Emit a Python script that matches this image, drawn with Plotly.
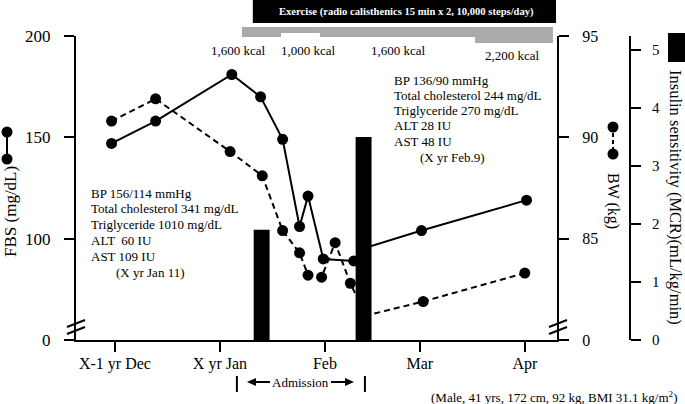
import plotly.graph_objects as go

# ---------------- data ----------------
month_days = [0, 31, 62, 90, 121]            # days since X-1 yr Dec 1
month_labels = ["X-1 yr Dec", "X yr Jan", "Feb", "Mar", "Apr"]

fbs_days = [-1, 12, 34.5, 43, 49.5, 54.5, 57, 61.5, 70.5, 73, 90.5, 121.5]
fbs_values = [147, 158, 181, 170, 149, 106, 121, 90, 89, 95, 104, 119]

bw_days = [-1, 12, 34, 43.5, 49.5, 54.5, 57, 61, 65, 69.5, 74, 91, 121]
bw_values = [90.8, 91.9, 89.3, 88.1, 85.4, 84.3, 83.2, 83.1, 84.8, 82.8, 81.2, 81.9, 83.3]

mcr_days = [43.3, 73.4]
mcr_values = [1.9, 3.5]

fbs_ticks = [50, 100, 150, 200]
fbs_ticktext = ["0", "100", "150", "200"]
bw_ticks = [80, 85, 90, 95]
bw_ticktext = ["0", "85", "90", "95"]
mcr_ticks = [0, 1, 2, 3, 4, 5]

diet_bounds = [37.5, 49, 60.5, 106.3, 129.3]
diet_kcal = [1600, 1000, 1600, 2200]
diet_labels = ["1,600 kcal", "1,000 kcal", "1,600 kcal", "2,200 kcal"]
exercise_span = [40.7, 130.2]
exercise_text = "Exercise (radio calisthenics 15 min x 2, 10,000 steps/day)"
admission_days = [36, 73.8]

jan_lab = ["BP 156/114 mmHg", "Total cholesterol 341 mg/dL", "Triglyceride 1010 mg/dL",
           "ALT  60 IU", "AST 109 IU"]
jan_date = "(X yr Jan 11)"
feb_lab = ["BP 136/90 mmHg", "Total cholesterol 244 mg/dL", "Triglyceride 270 mg/dL",
           "ALT 28 IU", "AST 48 IU"]
feb_date = "(X yr Feb.9)"
patient_text = "(Male, 41 yrs, 172 cm, 92 kg, BMI 31.1 kg/m<sup>2</sup>)"

# ---------------- layout helpers (pixel -> paper) ----------------
W, H = 685, 404
L, R, T, B = 76, 630, 36, 340
PLOT_RIGHT = 557
FONT = "Liberation Serif"


def px(x):
    return (x - L) / (R - L)


def py(y):
    return (B - y) / (B - T)


fig = go.Figure()
fig.add_trace(go.Scatter(
    x=fbs_days, y=fbs_values, mode="lines+markers", yaxis="y",
    line=dict(color="black", width=2), marker=dict(size=11, color="black"),
    cliponaxis=False))
fig.add_trace(go.Scatter(
    x=bw_days, y=bw_values, mode="lines+markers", yaxis="y2",
    line=dict(color="black", width=2, dash="6px,4px"),
    marker=dict(size=11, color="black"), cliponaxis=False))
fig.add_trace(go.Bar(
    x=mcr_days, y=mcr_values, width=4.7, yaxis="y3",
    marker=dict(color="black", line=dict(width=0))))

axis_common = dict(showline=True, linewidth=2, linecolor="black", ticks="outside",
                   ticklen=10, tickwidth=2, tickcolor="black", showgrid=False,
                   zeroline=False, fixedrange=True)

shapes = []
annotations = []


def txt(x, y, t, size=13, xanchor="left", color="black", angle=0):
    annotations.append(dict(xref="paper", yref="paper", x=px(x), y=py(y), text=t,
                            showarrow=False, xanchor=xanchor, yanchor="middle",
                            textangle=angle,
                            font=dict(size=size, color=color, family=FONT)))


def pline(x0, y0, x1, y1, width=2, dash="solid"):
    shapes.append(dict(type="line", xref="paper", yref="paper", x0=px(x0), x1=px(x1),
                       y0=py(y0), y1=py(y1), line=dict(color="black", width=width, dash=dash)))


def dot(cx, cy, r=5.5):
    shapes.append(dict(type="circle", xref="paper", yref="paper",
                       x0=px(cx - r), x1=px(cx + r), y0=py(cy + r), y1=py(cy - r),
                       fillcolor="black", line=dict(width=0)))


def tri(points):
    path = "M " + " L ".join(f"{px(a):.5f},{py(b):.5f}" for a, b in points) + " Z"
    shapes.append(dict(type="path", xref="paper", yref="paper", path=path,
                       fillcolor="black", line=dict(width=0)))


# diet band
thick = {1000: 6, 1600: 10, 2200: 16}
for i, k in enumerate(diet_kcal):
    shapes.append(dict(type="rect", xref="x", yref="paper",
                       x0=diet_bounds[i], x1=diet_bounds[i + 1],
                       y0=py(27 + thick[k]), y1=py(27),
                       fillcolor="#aaaaaa", line=dict(width=0), layer="above"))
label_pos = [(238, 51), (308, 51), (398, 51), (512, 56)]
for (lx, ly), t in zip(label_pos, diet_labels):
    txt(lx, ly, t, xanchor="center")

# exercise bar
shapes.append(dict(type="rect", xref="x", yref="paper",
                   x0=exercise_span[0], x1=exercise_span[1], y0=py(23), y1=py(0),
                   fillcolor="black", line=dict(width=0)))
txt(406, 12, "<b>" + exercise_text + "</b>", size=10.6, xanchor="center", color="white")

# lab text blocks
for i, t in enumerate(jan_lab):
    txt(89, 193 + i * 15.8, t)
txt(114, 272, jan_date)
for i, t in enumerate(feb_lab):
    txt(392, 80 + i * 15.3, t)
txt(418, 157, feb_date)

# admission bracket
for d in admission_days:
    shapes.append(dict(type="line", xref="x", yref="paper", x0=d, x1=d,
                       y0=py(392), y1=py(376), line=dict(color="black", width=2)))
txt(300, 382, "Admission", xanchor="center")
pline(254, 382, 270, 382)
tri([(247, 382), (256, 378), (256, 386)])
pline(331, 382, 347, 382)
tri([(354, 382), (345, 378), (345, 386)])

# patient info
txt(679, 397, patient_text, xanchor="right")

# axis titles
txt(10, 212, "FBS (mg/dL)", size=17, xanchor="center", angle=-90)
txt(613, 201, "BW (kg)", size=16, xanchor="center", angle=90)
txt(676, 197, "Insulin sensitivity (MCR)(mL/kg/min)", size=16.5, xanchor="center", angle=90)

# legend symbols
pline(7, 132, 7, 159)
dot(7, 132)
dot(7, 159)
pline(613, 133, 613, 149, dash="4px,3px")
dot(613, 127)
dot(613, 154)
shapes.append(dict(type="rect", xref="paper", yref="paper", x0=px(668), x1=px(690),
                   y0=py(62), y1=py(33), fillcolor="black", line=dict(width=0)))

# axis break marks
for (x0, x1, ya, yb) in [(67, 85, 327, 320), (67, 85, 334, 327),
                         (549, 567, 327, 320), (549, 567, 334, 327)]:
    pline(x0, ya, x1, yb)

fig.update_layout(
    width=W, height=H, showlegend=False,
    margin=dict(l=L, r=W - R, t=T, b=H - B, pad=0),
    paper_bgcolor="white", plot_bgcolor="white",
    font=dict(family=FONT, color="black"),
    xaxis=dict(domain=[0, (PLOT_RIGHT - L) / (R - L)], range=[-11.5, 130.5],
               tickmode="array", tickvals=month_days, ticktext=month_labels,
               tickfont=dict(size=16, family=FONT), ticklabelstandoff=-2, **axis_common),
    yaxis=dict(range=[50, 200], tickmode="array", tickvals=fbs_ticks,
               ticktext=fbs_ticktext, tickfont=dict(size=17, family=FONT),
               ticklabelstandoff=10, **axis_common),
    yaxis2=dict(range=[80, 95], overlaying="y", side="right", anchor="x",
                tickmode="array", tickvals=bw_ticks, ticktext=bw_ticktext,
                tickfont=dict(size=16, family=FONT), ticklabelstandoff=10, **axis_common),
    yaxis3=dict(range=[0, 5.24], overlaying="y", side="right", anchor="free",
                position=1, tickmode="array", tickvals=mcr_ticks,
                tickfont=dict(size=15, family=FONT), ticklabelstandoff=8, **axis_common),
    shapes=shapes, annotations=annotations,
)

fig.write_html("out.html", config={"displayModeBar": False},
               post_script="document.body.style.margin='0px';document.body.style.padding='0px';")
